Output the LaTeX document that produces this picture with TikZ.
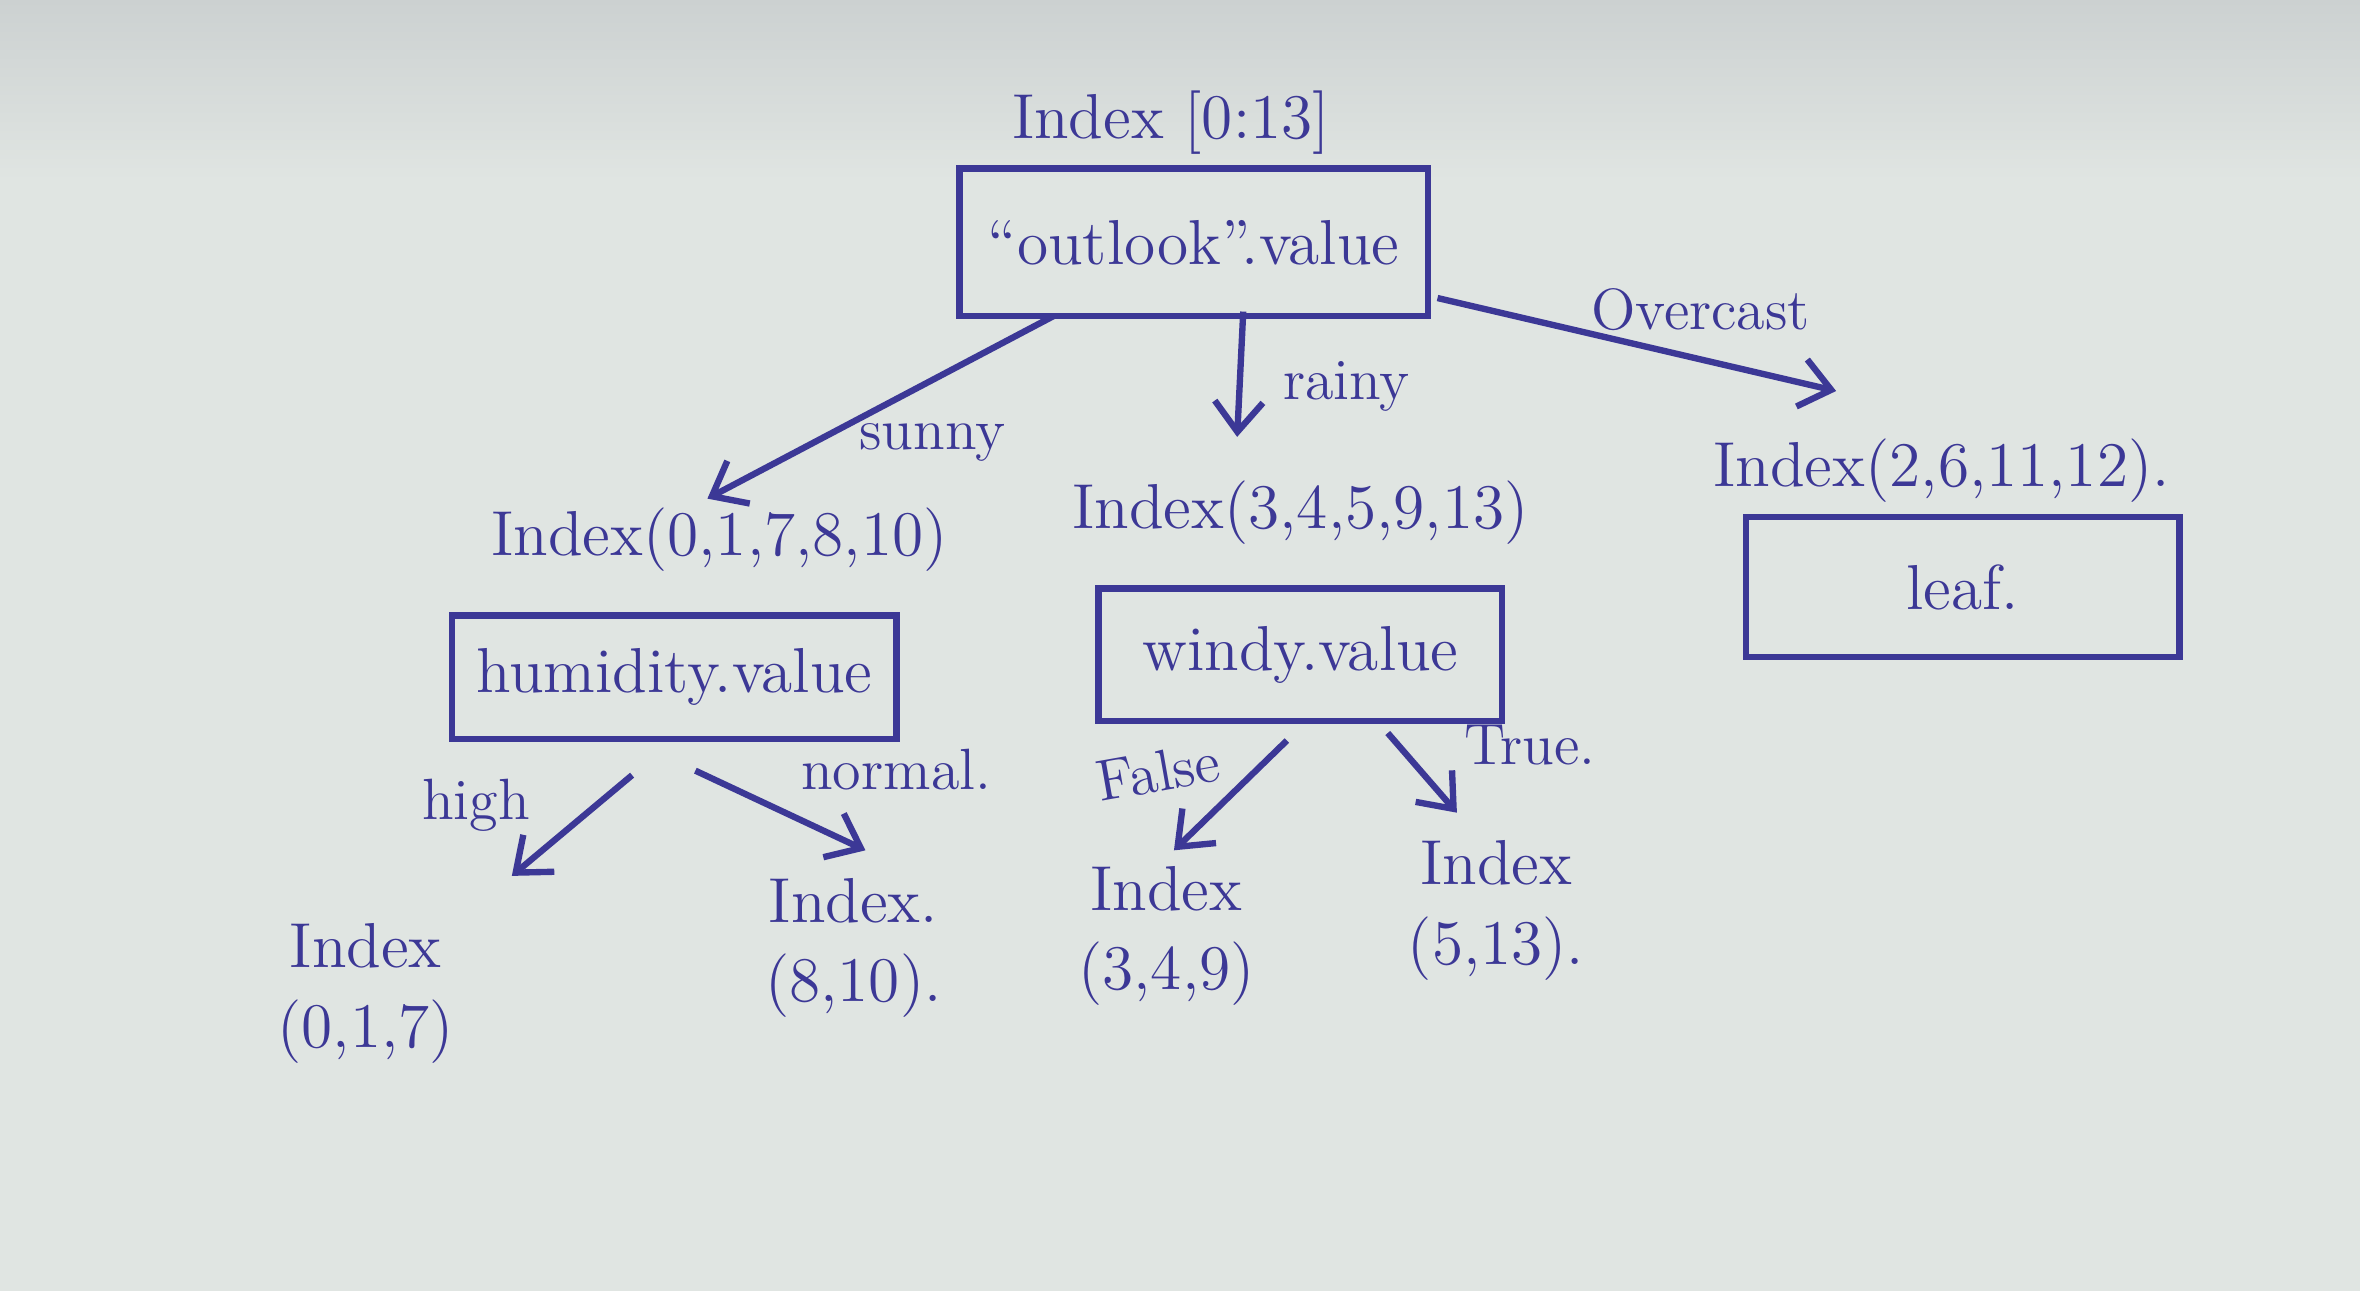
\documentclass[tikz,border=0pt]{standalone}
\usetikzlibrary{positioning,arrows.meta}
\definecolor{ink}{RGB}{60,56,150}
\definecolor{paper}{RGB}{224,229,226}
\definecolor{papertop}{RGB}{204,209,209}

\tikzset{
  split/.style={draw=ink, very thick, text=ink, inner sep=4pt, font=\fontsize{12}{14}\selectfont},
  idx/.style={text=ink, align=center, font=\fontsize{12}{15}\selectfont},
  branch/.style={draw=ink, very thick, -{Straight Barb[length=2mm,width=3.2mm]}},
  cond/.style={text=ink, font=\fontsize{11}{13}\selectfont}
}

\begin{document}
\begin{tikzpicture}[x=0.01cm, y=-0.01cm]
  \fill[paper] (0,0) rectangle (1568,858);
  \shade[top color=papertop, bottom color=paper] (0,0) rectangle (1568,120);
  \useasboundingbox (0,0) rectangle (1568,858);

  \node[split, minimum width=3.11cm, minimum height=0.98cm] (outlook) at (793,161) {``outlook''.value};
  \node[idx] (root) [above=-0.5mm of outlook, xshift=-1.5mm] {Index [0:13]};

  \node[split, minimum width=2.95cm, minimum height=0.82cm] (humidity) at (448,450) {humidity.value};
  \node[idx] (idxsunny) [above=1.5mm of humidity, xshift=3mm] {Index(0,1,7,8,10)};

  \node[split, minimum width=2.68cm, minimum height=0.88cm] (windy) at (864,435) {windy.value};
  \node[idx] (idxrainy) [above=1.5mm of windy] {Index(3,4,5,9,13)};

  \node[split, minimum width=2.88cm, minimum height=0.93cm] (leaf) at (1304,390) {leaf.};
  \node[idx] (idxovercast) [above=-0.5mm of leaf, xshift=-1.4mm] {Index(2,6,11,12).};

  \node[idx] (idxhigh) at (243,660) {Index\\(0,1,7)};
  \node[idx] (idxnormal) at (567,630) {Index.\\(8,10).};
  \node[idx] (idxfalse) at (775,622) {Index\\(3,4,9)};
  \node[idx] (idxtrue) at (994,605) {Index\\(5,13).};

  \draw[branch] ([xshift=-0.93cm,yshift=-0.49cm]outlook.center) -- ([xshift=-0.08cm,yshift=0.27cm]idxsunny.center)
    node[cond, pos=0.35, below=1.5mm] {sunny};
  \draw[branch] ([xshift=0.33cm,yshift=-0.46cm]outlook.center) -- ([xshift=-0.42cm,yshift=0.5cm]idxrainy.center)
    node[cond, pos=0.6, right=1.5mm] {rainy};
  \draw[branch] ([xshift=1.62cm,yshift=-0.37cm]outlook.center) -- ([xshift=-0.7cm,yshift=0.53cm]idxovercast.center)
    node[cond, pos=0.66, above=0.5mm] {Overcast};

  \draw[branch] ([xshift=-0.28cm,yshift=-0.65cm]humidity.center) -- ([xshift=0.97cm,yshift=0.78cm]idxhigh.center)
    node[cond, pos=0.3, left=3mm] {high};
  \draw[branch] ([xshift=0.14cm,yshift=-0.62cm]humidity.center) -- ([xshift=0.08cm,yshift=0.65cm]idxnormal.center)
    node[cond, pos=0.5, above right] {normal.};
  \draw[branch] ([xshift=-0.09cm,yshift=-0.57cm]windy.center) -- ([xshift=0.05cm,yshift=0.57cm]idxfalse.center)
    node[cond, pos=0.15, left=2mm, rotate=10] {False};
  \draw[branch] ([xshift=0.58cm,yshift=-0.52cm]windy.center) -- ([xshift=-0.26cm,yshift=0.65cm]idxtrue.center)
    node[cond, pos=0.15, right=3mm] {True.};
\end{tikzpicture}
\end{document}
